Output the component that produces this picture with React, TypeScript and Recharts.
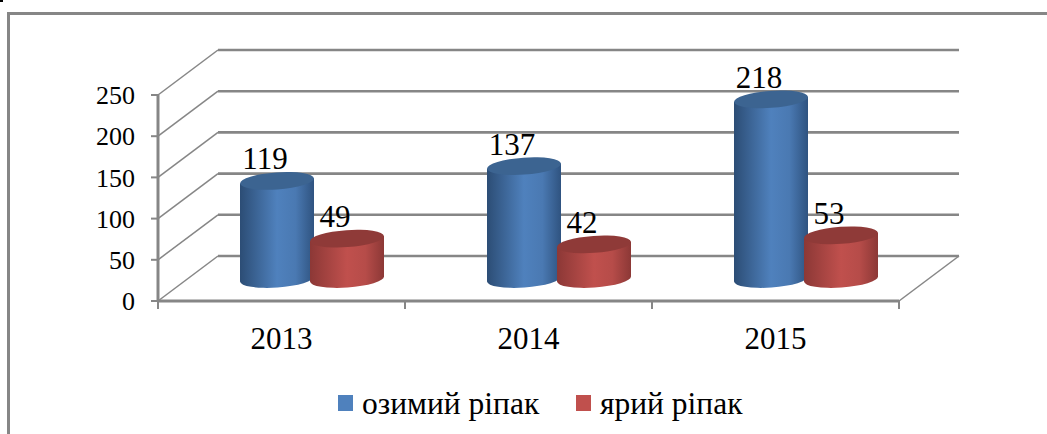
import React from "react";
import { BarChart, Bar, XAxis, YAxis, CartesianGrid, Legend, LabelList } from "recharts";

const categories = ["2013", "2014", "2015"];
const winterRape = [119, 137, 218];
const springRape = [49, 42, 53];
const yTicks = [0, 50, 100, 150, 200, 250];
const seriesNames = ["озимий ріпак", "ярий ріпак"];
const rows = categories.map((year, i) => ({ year, winter: winterRape[i], spring: springRape[i] }));

const FONT = "'Liberation Serif', 'Times New Roman', serif";
const GRID = "#868686";
const BACK_DX = 60;
const BACK_DY = -45;
const MID_DX = 30;
const MID_DY = -22;
const BAND = 247;

const GridLine = (p: any) => {
  const bx = p.x1 + BACK_DX;
  const by = p.y1 + BACK_DY;
  return (
    <g>
      <line x1={p.x1} y1={p.y1} x2={bx} y2={by} stroke={GRID} strokeWidth={1.5} />
      <line x1={bx} y1={by} x2={p.x2 + BACK_DX} y2={by} stroke={GRID} strokeWidth={2.6} />
    </g>
  );
};

const Cylinder = (p: any) => {
  const { x, y, width, height, grad, top } = p;
  const rx = width / 2;
  const ry = 8.5;
  const rot = -4;
  const left = x + MID_DX;
  const right = left + width;
  const tilt = Math.sin((rot * Math.PI) / 180) * rx;
  const topY = y + MID_DY;
  const botY = y + height + MID_DY;
  const body = `M${left},${topY - tilt} L${left},${botY - tilt} A${rx},${ry} ${rot} 0 0 ${right},${botY + tilt} L${right},${topY + tilt} Z`;
  return (
    <g>
      <path d={body} fill={`url(#${grad})`} />
      <ellipse cx={left + rx} cy={topY} rx={rx} ry={ry} fill={top} transform={`rotate(${rot} ${left + rx} ${topY})`} />
    </g>
  );
};

const ValueLabel = (p: any) => (
  <text
    x={p.x + MID_DX + p.width / 2 - 12}
    y={p.y + MID_DY - 22}
    textAnchor="middle"
    dominantBaseline="central"
    fontFamily={FONT}
    fontSize={31}
    fill="#000"
  >
    {p.value}
  </text>
);

const XTick = (p: any) => {
  const axisY = 301;
  const left = p.x - BAND / 2;
  return (
    <g>
      <line x1={left} y1={axisY} x2={left} y2={axisY + 8} stroke={GRID} strokeWidth={2} />
      {p.index === categories.length - 1 && (
        <>
          <line x1={left + BAND} y1={axisY} x2={left + BAND} y2={axisY + 8} stroke={GRID} strokeWidth={2} />
          <line x1={left + BAND} y1={axisY} x2={left + BAND + BACK_DX} y2={axisY + BACK_DY} stroke={GRID} strokeWidth={1.5} />
        </>
      )}
      <text x={p.x} y={axisY + 37} textAnchor="middle" dominantBaseline="central" fontFamily={FONT} fontSize={31} fill="#000">
        {p.payload.value}
      </text>
    </g>
  );
};

const LegendContent = (p: any) => (
  <div style={{ position: "relative", width: 1047, height: 40, fontFamily: FONT, fontSize: 31.5, color: "#000" }}>
    {p.payload.map((e: any, i: number) => (
      <React.Fragment key={e.value}>
        <span style={{ position: "absolute", left: i === 0 ? 338 : 576, top: 7, width: 15, height: 16, background: e.color }} />
        <span style={{ position: "absolute", left: i === 0 ? 362 : 600, top: 0, lineHeight: "32px", whiteSpace: "nowrap" }}>{e.value}</span>
      </React.Fragment>
    ))}
  </div>
);

export default function App() {
  return (
    <div style={{ position: "absolute", left: 0, top: 0, width: 1047, height: 434, background: "#fff", overflow: "hidden" }}>
      <div style={{ position: "absolute", left: 0, top: 0, width: 3, height: 2, background: "#000" }} />
      <div style={{ position: "absolute", left: 7, top: 12, width: 1100, height: 500, border: "3px solid #868686" }} />
      <BarChart
        width={1047}
        height={434}
        data={rows}
        margin={{ top: 95, right: 148, bottom: 0, left: 0 }}
        barSize={74}
        barGap={-4}
        style={{ position: "absolute", left: 0, top: 0 }}
      >
        <defs>
          <linearGradient id="blueBody" x1="0" x2="1" y1="0" y2="0">
            <stop offset="0" stopColor="#2c4d75" />
            <stop offset="0.5" stopColor="#4f81bd" />
            <stop offset="0.75" stopColor="#4a79b2" />
            <stop offset="1" stopColor="#2f5380" />
          </linearGradient>
          <linearGradient id="redBody" x1="0" x2="1" y1="0" y2="0">
            <stop offset="0" stopColor="#8c3836" />
            <stop offset="0.5" stopColor="#c0504d" />
            <stop offset="0.75" stopColor="#b64c49" />
            <stop offset="1" stopColor="#8c3836" />
          </linearGradient>
        </defs>
        <CartesianGrid horizontal={GridLine} vertical={false} />
        <XAxis
          dataKey="year"
          height={93}
          axisLine={{ stroke: GRID, strokeWidth: 3 }}
          tickLine={false}
          tick={XTick}
          interval={0}
        />
        <YAxis
          domain={[0, 250]}
          ticks={yTicks}
          width={158}
          axisLine={{ stroke: GRID, strokeWidth: 3 }}
          tickLine={{ stroke: GRID, strokeWidth: 2 }}
          tickSize={7}
          tick={{ fontFamily: FONT, fontSize: 26, fill: "#000" }}
          tickMargin={16}
          interval={0}
        />
        <Bar
          dataKey="winter"
          name={seriesNames[0]}
          fill="#4f81bd"
          isAnimationActive={false}
          shape={(p: any) => <Cylinder {...p} grad="blueBody" top="#3c6491" />}
        >
          <LabelList dataKey="winter" content={ValueLabel} />
        </Bar>
        <Bar
          dataKey="spring"
          name={seriesNames[1]}
          fill="#c0504d"
          isAnimationActive={false}
          shape={(p: any) => <Cylinder {...p} grad="redBody" top="#8f3a38" />}
        >
          <LabelList dataKey="spring" content={ValueLabel} />
        </Bar>
        <Legend
          content={LegendContent}
          wrapperStyle={{ position: "absolute", left: 0, top: 388, width: 1047, height: 40 }}
        />
      </BarChart>
    </div>
  );
}
